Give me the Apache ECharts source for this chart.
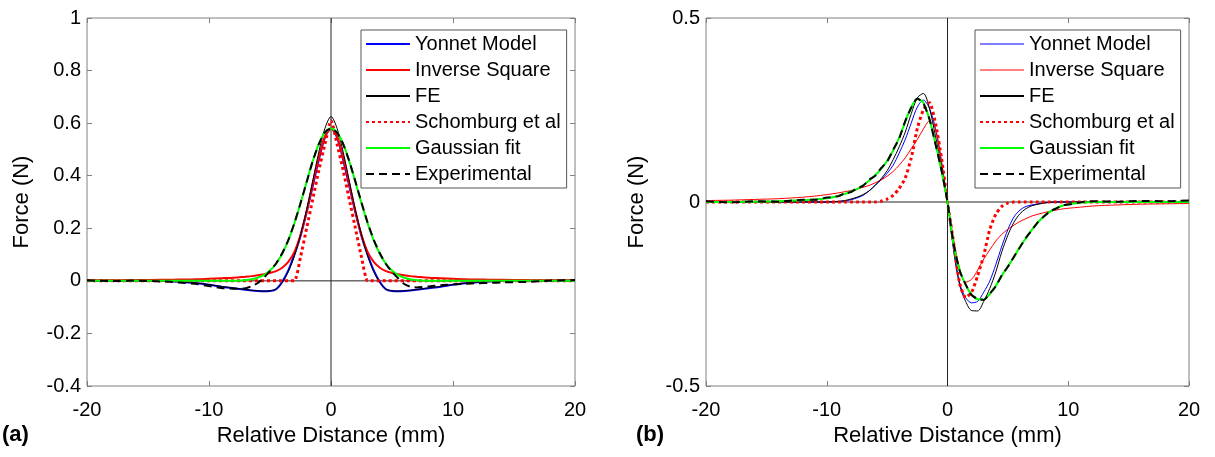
<!DOCTYPE html>
<html>
<head>
<meta charset="utf-8">
<script src="https://cdn.jsdelivr.net/npm/echarts@6/dist/echarts.min.js"></script>
<style>html,body{margin:0;padding:0;background:#fff;}#c{width:1215px;height:457px;}</style>
</head>
<body>
<div id="c"></div>
<script>
// ---------- axis ticks ----------
const xTicks = [-20, -10, 0, 10, 20];
const yTicksA = [-0.4, -0.2, 0, 0.2, 0.4, 0.6, 0.8, 1];
const yTicksB = [-0.5, 0, 0.5];
const seriesNames = ['Yonnet Model', 'Inverse Square', 'FE', 'Schomburg et al', 'Gaussian fit', 'Experimental'];

// ---------- panel (a) ----------
const xA = [-20,-18,-16,-14,-13,-12,-11,-10,-9,-8,-7,-6.5,-6,-5.5,-5,-4.5,-4,-3.5,-3,-2.5,-2,-1.5,-1,-0.5,0,0.5,1,1.5,2,2.5,3,3.5,4,4.5,5,5.5,6,6.5,7,8,9,10,11,12,13,14,16,18,20];
const yonnetA = [0,0,0,0,-0.002,-0.005,-0.009,-0.015,-0.022,-0.028,-0.034,-0.037,-0.039,-0.04,-0.039,-0.032,-0.004,0.04,0.1,0.17,0.26,0.36,0.46,0.545,0.58,0.545,0.46,0.36,0.26,0.17,0.1,0.04,-0.004,-0.032,-0.039,-0.04,-0.039,-0.037,-0.034,-0.028,-0.022,-0.015,-0.009,-0.005,-0.002,0,0,0,0];
const inverseA = [0.002,0.0025,0.003,0.004,0.0045,0.005,0.006,0.008,0.01,0.012,0.016,0.018,0.021,0.025,0.03,0.037,0.05,0.072,0.11,0.175,0.265,0.37,0.47,0.55,0.58,0.55,0.47,0.37,0.265,0.175,0.11,0.072,0.05,0.037,0.03,0.025,0.021,0.018,0.016,0.012,0.01,0.008,0.006,0.005,0.0045,0.004,0.003,0.0025,0.002];
const feA = [0,0,0,0,-0.002,-0.004,-0.008,-0.014,-0.021,-0.027,-0.033,-0.036,-0.038,-0.039,-0.038,-0.031,-0.006,0.035,0.095,0.175,0.27,0.38,0.49,0.58,0.625,0.58,0.49,0.38,0.27,0.175,0.095,0.035,-0.006,-0.031,-0.038,-0.039,-0.038,-0.036,-0.033,-0.027,-0.021,-0.014,-0.008,-0.004,-0.002,0,0,0,0];
const schomburgA = [0,0,0,0,0,0,0,0,0,0,0,0,0,0,0,0,0,0,0,0.09,0.2,0.31,0.42,0.52,0.61,0.52,0.42,0.31,0.2,0.09,0,0,0,0,0,0,0,0,0,0,0,0,0,0,0,0,0,0,0];
const gaussA = [0,0,0,0,0,0,0,0,0,0,0.003,0.006,0.012,0.022,0.039,0.065,0.103,0.154,0.219,0.295,0.376,0.455,0.521,0.564,0.58,0.564,0.521,0.455,0.376,0.295,0.219,0.154,0.103,0.065,0.039,0.022,0.012,0.006,0.003,0,0,0,0,0,0,0,0,0,0];
const expA = [0.002,-0.001,0.001,-0.002,-0.004,-0.008,-0.012,-0.02,-0.027,-0.03,-0.028,-0.02,-0.008,0.012,0.038,0.066,0.105,0.155,0.22,0.295,0.375,0.455,0.52,0.565,0.58,0.563,0.52,0.455,0.378,0.298,0.222,0.157,0.105,0.064,0.034,0.01,-0.012,-0.022,-0.025,-0.021,-0.017,-0.013,-0.011,-0.009,-0.008,-0.006,-0.004,0.001,0.003];

// ---------- panel (b) ----------
const xB = [-20,-18,-16,-14,-12,-11,-10,-9,-8.5,-8,-7.5,-7,-6.5,-6,-5.5,-5,-4.5,-4,-3.5,-3,-2.5,-2,-1.5,-1,-0.5,0,0.5,1,1.5,2,2.5,3,3.5,4,4.5,5,5.5,6,6.5,7,7.5,8,8.5,9,9.5,10,11,12,14,16,18,20];
const yonnetB = [0,0,0,0,0,0,0,0.001,0.003,0.006,0.011,0.018,0.03,0.045,0.06,0.078,0.1,0.133,0.17,0.215,0.258,0.277,0.255,0.2,0.11,0,-0.13,-0.22,-0.26,-0.274,-0.27,-0.245,-0.215,-0.17,-0.12,-0.075,-0.041,-0.022,-0.012,-0.008,-0.005,-0.002,-0.001,0,0,0,0,0,0,0,0,0];
const inverseB = [0.004,0.005,0.007,0.009,0.013,0.016,0.02,0.025,0.028,0.031,0.035,0.04,0.045,0.052,0.06,0.07,0.083,0.1,0.12,0.145,0.17,0.198,0.22,0.2,0.11,0,-0.1,-0.18,-0.218,-0.21,-0.185,-0.155,-0.13,-0.106,-0.088,-0.074,-0.063,-0.053,-0.045,-0.038,-0.033,-0.029,-0.025,-0.022,-0.019,-0.017,-0.014,-0.011,-0.008,-0.006,-0.005,-0.004];
const feB = [0,0,0,0,0,0,0,0.002,0.004,0.008,0.013,0.02,0.03,0.045,0.063,0.085,0.115,0.15,0.19,0.24,0.283,0.295,0.255,0.18,0.095,0,-0.125,-0.225,-0.27,-0.295,-0.296,-0.27,-0.235,-0.19,-0.135,-0.09,-0.055,-0.032,-0.018,-0.01,-0.006,-0.003,-0.001,0,0,0,0,0,0,0,0,0];
const schomburgB = [0,0,0,0,0,0,0,0,0,0,0,0,0,0,0.002,0.008,0.018,0.037,0.065,0.12,0.2,0.25,0.27,0.215,0.12,0,-0.11,-0.22,-0.26,-0.245,-0.2,-0.145,-0.075,-0.033,-0.012,-0.003,0,0,0,0,0,0,0,0,0,0,0,0,0,0,0,0];
const gaussB = [0,0,0.001,0.002,0.005,0.007,0.01,0.017,0.022,0.028,0.035,0.045,0.058,0.072,0.09,0.112,0.14,0.175,0.218,0.258,0.28,0.27,0.225,0.16,0.085,0,-0.115,-0.185,-0.225,-0.252,-0.264,-0.265,-0.25,-0.228,-0.2,-0.175,-0.15,-0.122,-0.098,-0.075,-0.055,-0.038,-0.026,-0.017,-0.01,-0.006,-0.002,0,0,0,0,0];
const expB = [0.002,-0.001,0.002,0.001,0.006,0.006,0.012,0.016,0.024,0.027,0.037,0.044,0.06,0.071,0.092,0.11,0.142,0.173,0.22,0.256,0.281,0.268,0.226,0.158,0.087,0,-0.113,-0.186,-0.224,-0.253,-0.263,-0.266,-0.249,-0.229,-0.199,-0.176,-0.149,-0.123,-0.097,-0.076,-0.054,-0.039,-0.025,-0.018,-0.009,-0.007,-0.001,0.002,0.001,0.003,0.002,0.004];

const FONT = '"Liberation Sans", Arial, Helvetica, sans-serif';
const BOX = '#808080';

function pairs(xs, ys) { return xs.map((x, i) => [x, ys[i]]); }

function mkX(grid, show, pos) {
  return {
    type: 'value', gridIndex: grid, position: pos,
    min: xTicks[0], max: xTicks[xTicks.length - 1], interval: 10,
    axisLine: { show: false, onZero: false },
    axisTick: { show: true, inside: true, length: 5, lineStyle: { color: BOX } },
    splitLine: { show: false },
    axisLabel: { show: show, color: '#000', fontSize: 20, fontFamily: FONT, margin: 14 },
    name: show ? 'Relative Distance (mm)' : '', nameLocation: 'middle', nameGap: 34,
    nameTextStyle: { color: '#000', fontSize: 22, fontFamily: FONT }
  };
}
function mkY(grid, ticks, interval, show, pos, gap) {
  return {
    type: 'value', gridIndex: grid, position: pos,
    min: ticks[0], max: ticks[ticks.length - 1], interval: interval,
    axisLine: { show: false, onZero: false },
    axisTick: { show: true, inside: true, length: 5, lineStyle: { color: BOX } },
    splitLine: { show: false },
    axisLabel: { show: show, color: '#000', fontSize: 20, fontFamily: FONT, margin: 6 },
    name: show ? 'Force (N)' : '', nameLocation: 'middle', nameGap: gap,
    nameTextStyle: { color: '#000', fontSize: 22, fontFamily: FONT }
  };
}

function panelSeries(axisIdx, xs, data, thin) {
  const [yon, inv, fe, sch, gau, ex] = data;
  const base = { type: 'line', xAxisIndex: axisIdx, yAxisIndex: axisIdx, symbol: 'none', showSymbol: false, animation: false };
  return [
    Object.assign({}, base, { name: seriesNames[0], data: pairs(xs, yon), smooth: 0.3, lineStyle: { color: '#0000ff', width: thin ? 1 : 2 }, itemStyle: { color: '#0000ff' }, z: 3 }),
    Object.assign({}, base, { name: seriesNames[1], data: pairs(xs, inv), smooth: 0.3, lineStyle: { color: '#ff0000', width: thin ? 1 : 2 }, itemStyle: { color: '#ff0000' }, z: 3 }),
    Object.assign({}, base, { name: seriesNames[2], data: pairs(xs, fe), smooth: 0.3, lineStyle: { color: '#000000', width: 1 }, itemStyle: { color: '#000' }, z: 3 }),
    Object.assign({}, base, { name: seriesNames[3], data: pairs(xs, sch), smooth: 0.2, lineStyle: { color: '#ff0000', width: 3, type: [3, 3] }, itemStyle: { color: '#ff0000' }, z: 4 }),
    Object.assign({}, base, { name: seriesNames[4], data: pairs(xs, gau), smooth: 0.3, lineStyle: { color: '#00ff00', width: 2 }, itemStyle: { color: '#00ff00' }, z: 4 }),
    Object.assign({}, base, { name: seriesNames[5], data: pairs(xs, ex), smooth: 0.2, lineStyle: { color: '#000000', width: 2, type: [8, 5] }, itemStyle: { color: '#000' }, z: 5 })
  ];
}
function zeroLines(axisIdx, yt) {
  const st = { type: 'line', xAxisIndex: axisIdx, yAxisIndex: axisIdx, symbol: 'none', silent: true, animation: false, z: 2, lineStyle: { color: '#222', width: 1 } };
  return [
    Object.assign({}, st, { name: 'zx' + axisIdx, data: [[0, yt[0]], [0, yt[yt.length - 1]]] }),
    Object.assign({}, st, { name: 'zy' + axisIdx, data: [[xTicks[0], 0], [xTicks[xTicks.length - 1], 0]] })
  ];
}

const legendBase = {
  orient: 'vertical', top: 30, itemWidth: 44, itemHeight: 20, itemGap: 6,
  padding: [4, 6, 4, 4], borderColor: '#555', borderWidth: 1, backgroundColor: '#fff',
  textStyle: { color: '#000', fontSize: 20, fontFamily: FONT, lineHeight: 20 },
  itemStyle: { opacity: 0, borderWidth: 0 },
  selectedMode: false
};

const option = {
  animation: false,
  backgroundColor: '#fff',
  grid: [
    { left: 87, top: 18, width: 488, height: 368, show: true, borderColor: BOX, borderWidth: 1, backgroundColor: 'transparent' },
    { left: 706, top: 18, width: 483, height: 368, show: true, borderColor: BOX, borderWidth: 1, backgroundColor: 'transparent' }
  ],
  xAxis: [mkX(0, true, 'bottom'), mkX(1, true, 'bottom'), mkX(0, false, 'top'), mkX(1, false, 'top')],
  yAxis: [mkY(0, yTicksA, 0.2, true, 'left', 54), mkY(1, yTicksB, 0.5, true, 'left', 58), mkY(0, yTicksA, 0.2, false, 'right', 0), mkY(1, yTicksB, 0.5, false, 'right', 0)],
  legend: [
    Object.assign({}, legendBase, { left: 361, data: seriesNames.map(n => ({ name: n })) }),
    Object.assign({}, legendBase, { left: 975, data: seriesNames.map((n, i) => (i < 2 ? { name: n, lineStyle: { width: 1 } } : { name: n })) })
  ],
  graphic: [
    { type: 'text', left: 2, top: 424, style: { text: '(a)', font: 'bold 22px ' + FONT, fill: '#000' } },
    { type: 'text', left: 636, top: 424, style: { text: '(b)', font: 'bold 22px ' + FONT, fill: '#000' } }
  ],
  series: [].concat(
    zeroLines(0, yTicksA),
    panelSeries(0, xA, [yonnetA, inverseA, feA, schomburgA, gaussA, expA], false),
    zeroLines(1, yTicksB),
    panelSeries(1, xB, [yonnetB, inverseB, feB, schomburgB, gaussB, expB], true)
  )
};

const chart = echarts.init(document.getElementById('c'), null, { renderer: 'canvas' });
chart.setOption(option);
</script>
</body>
</html>
